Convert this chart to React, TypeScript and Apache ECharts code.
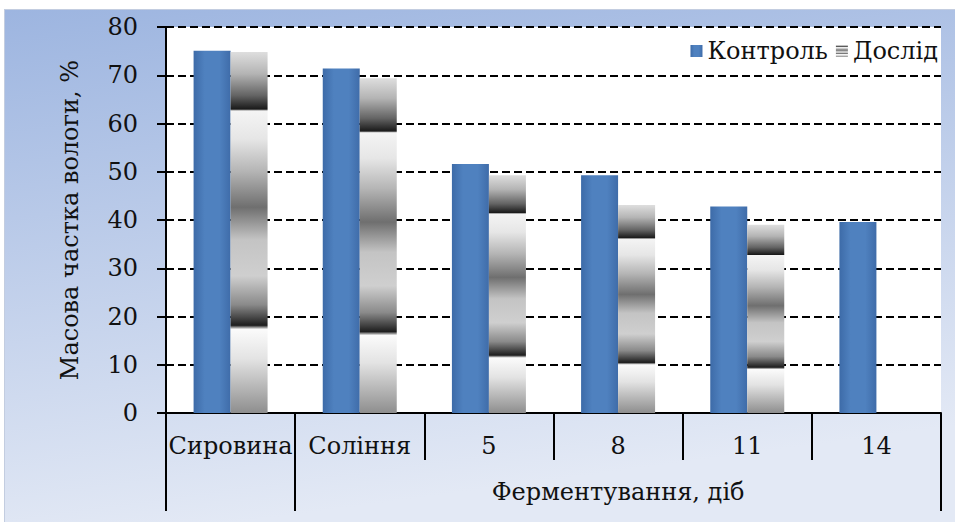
import React, { useEffect, useRef } from "react";
import * as echarts from "echarts";

// Stages of processing and moisture mass fraction, %
const categories = ["Сировина", "Соління", "5", "8", "11", "14"];
const controlValues = [75.1, 71.4, 51.6, 49.3, 42.8, 39.6];
const experimentValues: (number | null)[] = [74.8, 69.4, 49.3, 43.1, 39.0, null];
const yTicks = { min: 0, max: 80, interval: 10 };
const groupLabel = "Ферментування, діб";
const yAxisTitle = "Масова частка вологи, %";

const SERIF = "'DejaVu Serif', 'Liberation Serif', serif";

// Blue bar with slightly darker edges
const controlFill = new echarts.graphic.LinearGradient(0, 0, 1, 0, [
  { offset: 0, color: "#3d6ba8" },
  { offset: 0.3, color: "#4f81bf" },
  { offset: 0.7, color: "#4f81bf" },
  { offset: 1, color: "#3f6ca9" },
]);

// Banded grey fill of the "Дослід" bars
const experimentFill = new echarts.graphic.LinearGradient(0, 0, 0, 1, [
  { offset: 0, color: "#dedede" },
  { offset: 0.06, color: "#b4b4b4" },
  { offset: 0.12, color: "#646464" },
  { offset: 0.158, color: "#1a1a1a" },
  { offset: 0.163, color: "#f4f4f4" },
  { offset: 0.24, color: "#e6e6e6" },
  { offset: 0.33, color: "#b5b5b5" },
  { offset: 0.43, color: "#6f6f6f" },
  { offset: 0.52, color: "#c4c4c4" },
  { offset: 0.62, color: "#cfcfcf" },
  { offset: 0.7, color: "#8a8a8a" },
  { offset: 0.757, color: "#1e1e1e" },
  { offset: 0.768, color: "#fbfbfb" },
  { offset: 0.85, color: "#e3e3e3" },
  { offset: 1, color: "#8e8e8e" },
]);

export default function App() {
  const ref = useRef<HTMLDivElement>(null);

  useEffect(() => {
    if (!ref.current) return;
    const chart = echarts.init(ref.current, undefined, { renderer: "svg" });
    const black = { color: "#000", width: 2 };
    const label = {
      fontFamily: SERIF,
      fontSize: 24,
      color: "#111",
      fontWeight: "normal" as const,
    };
    chart.setOption({
      animation: false,
      backgroundColor: new echarts.graphic.LinearGradient(0, 0, 0.25, 1, [
        { offset: 0, color: "#9db5e0" },
        { offset: 1, color: "#e3e9f5" },
      ]),
      textStyle: { fontFamily: SERIF },
      grid: {
        left: 161,
        right: 14,
        top: 17,
        bottom: 109,
        show: true,
        backgroundColor: "#ffffff",
        borderWidth: 0,
      },
      legend: {
        right: 17,
        top: 29,
        padding: 0,
        itemWidth: 12,
        itemHeight: 12,
        itemGap: 8,
        icon: "rect",
        textStyle: label,
        data: ["Контроль", "Дослід"],
      },
      xAxis: [
        {
          type: "category",
          data: categories,
          axisLine: { show: true, lineStyle: black },
          axisTick: { show: true, interval: 0, length: 47, lineStyle: black },
          axisLabel: { interval: 0, margin: 21, ...label },
          splitLine: { show: false },
        },
        {
          // category groups: raw / salted vs. fermentation days
          type: "value",
          position: "bottom",
          min: 0,
          max: categories.length,
          axisLine: { show: false },
          axisTick: {
            show: true,
            customValues: [0, 1, categories.length],
            length: 98,
            lineStyle: black,
          },
          axisLabel: {
            customValues: [(1 + categories.length) / 2],
            formatter: () => groupLabel,
            margin: 67,
            ...label,
          },
          splitLine: { show: false },
        },
      ],
      yAxis: {
        type: "value",
        min: yTicks.min,
        max: yTicks.max,
        interval: yTicks.interval,
        name: yAxisTitle,
        nameLocation: "middle",
        nameGap: 84,
        nameTextStyle: label,
        axisLine: { show: true, lineStyle: black },
        axisTick: { show: true, length: 9, lineStyle: black },
        axisLabel: { margin: 28, ...label },
        splitLine: { show: true, lineStyle: { color: "#000", width: 2, type: [8, 4] } },
      },
      series: [
        {
          name: "Контроль",
          type: "bar",
          data: controlValues,
          barWidth: 37,
          barGap: "0%",
          itemStyle: { color: controlFill },
        },
        {
          name: "Дослід",
          type: "bar",
          data: experimentValues,
          barWidth: 37,
          barGap: "0%",
          itemStyle: { color: experimentFill },
        },
      ],
    });
    return () => chart.dispose();
  }, []);

  return (
    <div
      ref={ref}
      style={{
        position: "absolute",
        left: 5,
        top: 10,
        width: 950,
        height: 512,
        outline: "1px solid #c3cde0",
      }}
    />
  );
}
